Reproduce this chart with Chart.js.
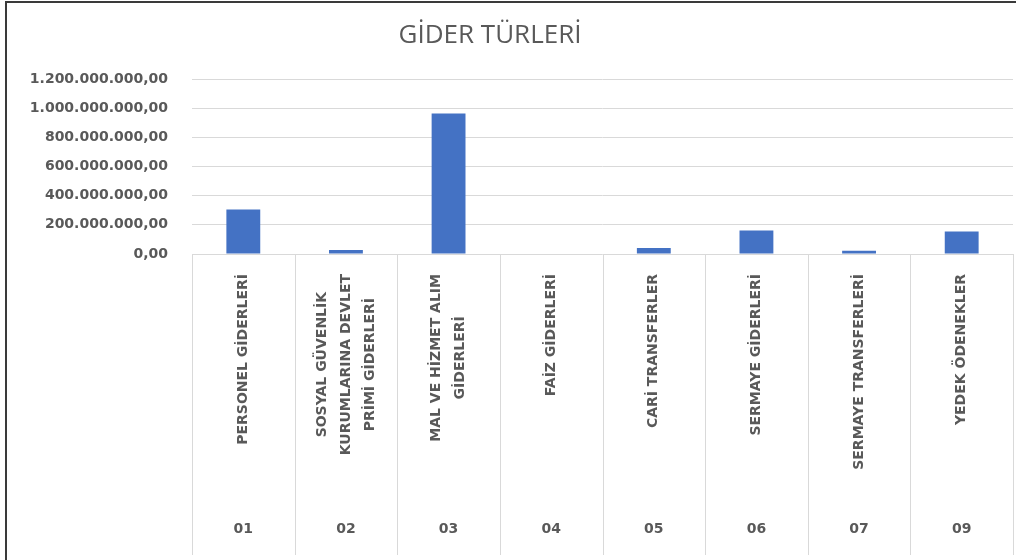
<!DOCTYPE html>
<html>
<head>
<meta charset="utf-8">
<title>GİDER TÜRLERİ</title>
<script src="https://cdn.jsdelivr.net/npm/chart.js@4.4.1/dist/chart.umd.min.js"></script>
<style>
    html, body { margin: 0; padding: 0; background: #ffffff; }
    #wrap { width: 1017px; height: 560px; position: relative; }
</style>
</head>
<body>
<div id="wrap"><canvas id="giderChart" width="1017" height="560"></canvas></div>
<script>
// Chart data
const chartTitle = 'GİDER TÜRLERİ';
const codes = ['01', '02', '03', '04', '05', '06', '07', '09'];
const names = [
    ['PERSONEL GİDERLERİ'],
    ['SOSYAL GÜVENLİK', 'KURUMLARINA DEVLET', 'PRİMİ GİDERLERİ'],
    ['MAL VE HİZMET ALIM', 'GİDERLERİ'],
    ['FAİZ GİDERLERİ'],
    ['CARİ TRANSFERLER'],
    ['SERMAYE GİDERLERİ'],
    ['SERMAYE TRANSFERLERİ'],
    ['YEDEK ÖDENEKLER']
];
const values = [305000000, 27000000, 963000000, 0, 41000000, 161000000, 23000000, 154000000];
const yTicks = [0, 200000000, 400000000, 600000000, 800000000, 1000000000, 1200000000];

const textGray = '#595959';
const lineGray = '#d9d9d9';

// 1.200.000.000,00 style
function formatTr(value) {
    const intPart = Math.round(value).toString().replace(/\B(?=(\d{3})+(?!\d))/g, '.');
    return intPart + ',00';
}

// Title, border and the two-level category axis
const decorPlugin = {
    id: 'decor',
    afterDraw: function (chart) {
        const ctx = chart.ctx;
        const x = chart.scales.x;
        const area = chart.chartArea;
        const step = (x.right - x.left) / codes.length;
        ctx.save();

        // title
        ctx.fillStyle = textGray;
        ctx.font = '26px "Open Sans"';
        ctx.textAlign = 'center';
        ctx.textBaseline = 'alphabetic';
        ctx.fillText(chartTitle, 490, 43);

        // category separators
        ctx.strokeStyle = lineGray;
        ctx.lineWidth = 1;
        for (let i = 0; i <= codes.length; i++) {
            const px = Math.round(x.left + i * step) + 0.5;
            ctx.beginPath();
            ctx.moveTo(px, area.bottom);
            ctx.lineTo(px, 555);
            ctx.stroke();
        }

        // rotated names, block ends next to the axis
        ctx.font = 'bold 14px "DejaVu Sans"';
        ctx.fillStyle = textGray;
        ctx.textBaseline = 'middle';
        const lineGap = 24;
        names.forEach(function (lines, i) {
            const cx = x.getPixelForTick(i);
            const widths = lines.map(l => ctx.measureText(l).width);
            const maxW = Math.max.apply(null, widths);
            const top = area.bottom + 20;
            lines.forEach(function (line, j) {
                const lx = cx + (j - (lines.length - 1) / 2) * lineGap;
                ctx.save();
                ctx.translate(lx, top + maxW / 2);
                ctx.rotate(-Math.PI / 2);
                ctx.textAlign = 'center';
                ctx.fillText(line, 0, 0);
                ctx.restore();
            });
        });

        // codes
        ctx.textAlign = 'center';
        codes.forEach(function (code, i) {
            ctx.fillText(code, x.getPixelForTick(i), 529);
        });

        // frame
        ctx.strokeStyle = '#3a3a3a';
        ctx.lineWidth = 2;
        ctx.beginPath();
        ctx.moveTo(6, 560);
        ctx.lineTo(6, 2);
        ctx.lineTo(1016, 2);
        ctx.stroke();
        ctx.restore();
    }
};

const ctx = document.getElementById('giderChart').getContext('2d');
new Chart(ctx, {
    type: 'bar',
    data: {
        labels: codes,
        datasets: [{
            label: chartTitle,
            data: values,
            backgroundColor: '#4472C4',
            borderWidth: 0,
            categoryPercentage: 1.0,
            barPercentage: 0.33
        }]
    },
    options: {
        responsive: false,
        animation: false,
        layout: {
            padding: { top: 79, right: 4, bottom: 0, left: 0 }
        },
        plugins: {
            legend: { display: false },
            title: { display: false },
            tooltip: { enabled: false }
        },
        scales: {
            x: {
                offset: true,
                grid: { display: false },
                border: { display: false },
                ticks: { display: false },
                afterFit: function (scale) { scale.height = 306; }
            },
            y: {
                min: 0,
                max: 1200000000,
                afterBuildTicks: function (scale) {
                    scale.ticks = yTicks.map(v => ({ value: v }));
                },
                grid: {
                    color: lineGray,
                    drawTicks: false
                },
                border: { display: false },
                ticks: {
                    padding: 24,
                    color: textGray,
                    font: { family: '"DejaVu Sans"', size: 14, weight: 'bold' },
                    callback: function (value) { return formatTr(value); }
                },
                afterFit: function (scale) { scale.width = 192; }
            }
        }
    },
    plugins: [decorPlugin]
});
</script>
</body>
</html>
